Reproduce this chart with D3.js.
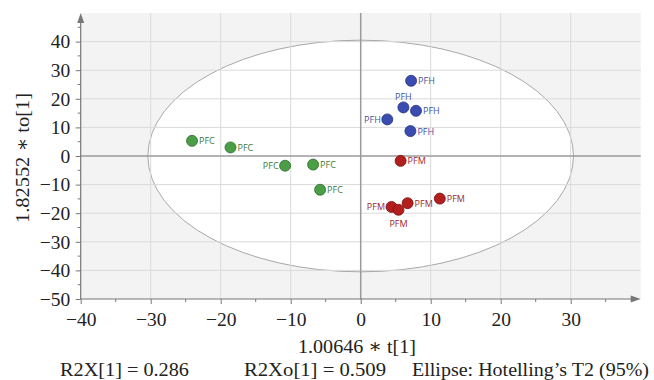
<!DOCTYPE html>
<html>
<head>
<meta charset="utf-8">
<script src="https://cdn.jsdelivr.net/npm/d3@7"></script>
<style>
body{margin:0;background:#fff}
.serif{font-family:"Liberation Serif","DejaVu Serif",serif;fill:#222}
.lbl{font-family:"Open Sans","Noto Sans",sans-serif;font-size:9px}
</style>
</head>
<body>
<svg id="canvas" width="654" height="380"></svg>
<script>
// scores
var groups = ["PFC","PFC","PFC","PFC","PFC","PFH","PFH","PFH","PFH","PFH","PFM","PFM","PFM","PFM","PFM"]
var t1 =     [-24.1,-18.6,-10.8,-6.8,-5.8, 7.2, 6.1, 7.9, 3.8, 7.1, 5.7, 11.3, 6.7, 4.4, 5.4]
var to1 =    [5.3, 3.0, -3.4, -3.0, -11.8, 26.3, 17.0, 15.8, 12.8, 8.7, -1.7, -14.9, -16.5, -17.8, -18.8]
var labelSide = ["r","r","l","r","r","r","t","r","l","r","r","r","r","l","b"]

var xTicks = [-40,-30,-20,-10,0,10,20,30]
var yTicks = [-50,-40,-30,-20,-10,0,10,20,30,40]
var xDomain = [-40,40]
var yDomain = [-50,50]
var ellipseR = [30.4,40.5]   // Hotelling T2 95% radii (t, to)

var fills = {PFC:"#4a9e46", PFH:"#3a4cb0", PFM:"#b31f1f"}
var strokes = {PFC:"#2f6b2d", PFH:"#243278", PFM:"#781212"}
var textCol = {PFC:"#3b7a38", PFH:"#4253a0", PFM:"#9c2828"}

var canvas = d3.select("#canvas")

var x = d3.scaleLinear().domain(xDomain).range([80.7,640.7])
var y = d3.scaleLinear().domain(yDomain).range([299,13])

// background
canvas.append("rect")
    .attr("x", x(xDomain[0]))
    .attr("y", y(yDomain[1]))
    .attr("width", x(xDomain[1])-x(xDomain[0]))
    .attr("height", y(yDomain[0])-y(yDomain[1]))
    .style("fill", "#f3f3f3")

// ellipse
canvas.append("ellipse")
    .attr("cx", x(0))
    .attr("cy", y(0))
    .attr("rx", x(ellipseR[0])-x(0))
    .attr("ry", y(0)-y(ellipseR[1]))
    .style("fill", "#fff")
    .style("stroke", "#a8a8a8")
    .style("stroke-width", 1)

// grid
canvas.selectAll(".gx").data(xTicks.filter(function(d){return d!=0 && d!=xDomain[0]})).enter()
    .append("line")
    .attr("x1", function(d){return x(d)}).attr("x2", function(d){return x(d)})
    .attr("y1", y(yDomain[1])).attr("y2", y(yDomain[0]))
    .style("stroke", "#dadada").style("stroke-width", 1)

canvas.selectAll(".gy").data(yTicks.filter(function(d){return d!=0 && d!=yDomain[0]})).enter()
    .append("line")
    .attr("y1", function(d){return y(d)}).attr("y2", function(d){return y(d)})
    .attr("x1", x(xDomain[0])).attr("x2", x(xDomain[1]))
    .style("stroke", "#dadada").style("stroke-width", 1)

// zero lines
canvas.append("line")
    .attr("x1", x(0)).attr("x2", x(0))
    .attr("y1", y(yDomain[1])).attr("y2", y(yDomain[0]))
    .style("stroke", "#9a9a9a").style("stroke-width", 1.5)
canvas.append("line")
    .attr("x1", x(xDomain[0])).attr("x2", x(xDomain[1]))
    .attr("y1", y(0)).attr("y2", y(0))
    .style("stroke", "#9a9a9a").style("stroke-width", 1.5)

// axes
var fmt = function(d){return d3.format("")(d).replace("-","\u2212")}
var xAxis = d3.axisBottom(x).tickValues(xTicks).tickSize(5).tickPadding(8).tickFormat(fmt)
var gx = canvas.append("g").attr("transform", "translate(0,"+y(yDomain[0])+")").call(xAxis)
var yAxis = d3.axisLeft(y).tickValues(yTicks).tickSize(5).tickPadding(5.5).tickFormat(fmt)
var gy = canvas.append("g").attr("transform", "translate("+x(xDomain[0])+",0)").call(yAxis)

;[gx,gy].forEach(function(g){
    g.select(".domain").remove()
    g.selectAll("line").style("stroke", "#777")
    g.selectAll("text").attr("class", "serif").style("font-size", "19.5px").style("fill", "#222")
})

// minor ticks
canvas.selectAll(".mx").data(d3.range(xDomain[0]+5, xDomain[1], 10)).enter()
    .append("line")
    .attr("x1", function(d){return x(d)}).attr("x2", function(d){return x(d)})
    .attr("y1", y(yDomain[0])).attr("y2", y(yDomain[0])+3)
    .style("stroke", "#777")
canvas.selectAll(".my").data(d3.range(yDomain[0]+5, yDomain[1], 10)).enter()
    .append("line")
    .attr("y1", function(d){return y(d)}).attr("y2", function(d){return y(d)})
    .attr("x1", x(xDomain[0])).attr("x2", x(xDomain[0])-3)
    .style("stroke", "#777")

// axis lines with arrows
canvas.append("line")
    .attr("x1", x(xDomain[0])).attr("x2", x(xDomain[1])-6)
    .attr("y1", y(yDomain[0])).attr("y2", y(yDomain[0]))
    .style("stroke", "#777").style("stroke-width", 1.2)
canvas.append("path")
    .attr("d", "M"+x(xDomain[1])+" "+y(yDomain[0])+" l-10 -3.5 l0 7 z")
    .style("fill", "#777")
canvas.append("line")
    .attr("x1", x(xDomain[0])).attr("x2", x(xDomain[0]))
    .attr("y1", y(yDomain[0])).attr("y2", y(yDomain[1])+6)
    .style("stroke", "#777").style("stroke-width", 1.2)
canvas.append("path")
    .attr("d", "M"+x(xDomain[0])+" "+y(yDomain[1])+" l-3.5 10 l7 0 z")
    .style("fill", "#777")

// points
var pts = d3.range(groups.length)
canvas.selectAll(".pt").data(pts).enter()
    .append("circle")
    .attr("cx", function(i){return x(t1[i])})
    .attr("cy", function(i){return y(to1[i])})
    .attr("r", 5.5)
    .style("fill", function(i){return fills[groups[i]]})
    .style("stroke", function(i){return strokes[groups[i]]})
    .style("stroke-width", 0.8)

canvas.selectAll(".lb").data(pts).enter()
    .append("text")
    .attr("class", "lbl")
    .attr("x", function(i){
        var s = labelSide[i]
        if(s=="r") return x(t1[i])+7
        if(s=="l") return x(t1[i])-6.5
        return x(t1[i])
    })
    .attr("y", function(i){
        var s = labelSide[i]
        if(s=="t") return y(to1[i])-7
        if(s=="b") return y(to1[i])+17
        return y(to1[i])+3.5
    })
    .attr("text-anchor", function(i){
        var s = labelSide[i]
        return s=="r" ? "start" : (s=="l" ? "end" : "middle")
    })
    .style("fill", function(i){return textCol[groups[i]]})
    .text(function(i){return groups[i]})

// titles
canvas.append("text").attr("class", "serif")
    .attr("x", 298).attr("y", 353)
    .attr("textLength", 118).attr("lengthAdjust", "spacingAndGlyphs")
    .style("font-size", "19.5px")
    .text("1.00646 \u2217 t[1]")

canvas.append("text").attr("class", "serif")
    .attr("transform", "translate(29,223) rotate(-90)")
    .attr("textLength", 130).attr("lengthAdjust", "spacingAndGlyphs")
    .style("font-size", "19.5px")
    .text("1.82552 \u2217 to[1]")

var footer = [["R2X[1] = 0.286",60,129],["R2Xo[1] = 0.509",244,142],["Ellipse: Hotelling\u2019s T2 (95%)",412,237]]
canvas.selectAll(".ft").data(footer).enter()
    .append("text").attr("class", "serif")
    .attr("x", function(d){return d[1]}).attr("y", 376)
    .attr("textLength", function(d){return d[2]}).attr("lengthAdjust", "spacingAndGlyphs")
    .style("font-size", "19.5px")
    .text(function(d){return d[0]})
</script>
</body>
</html>
